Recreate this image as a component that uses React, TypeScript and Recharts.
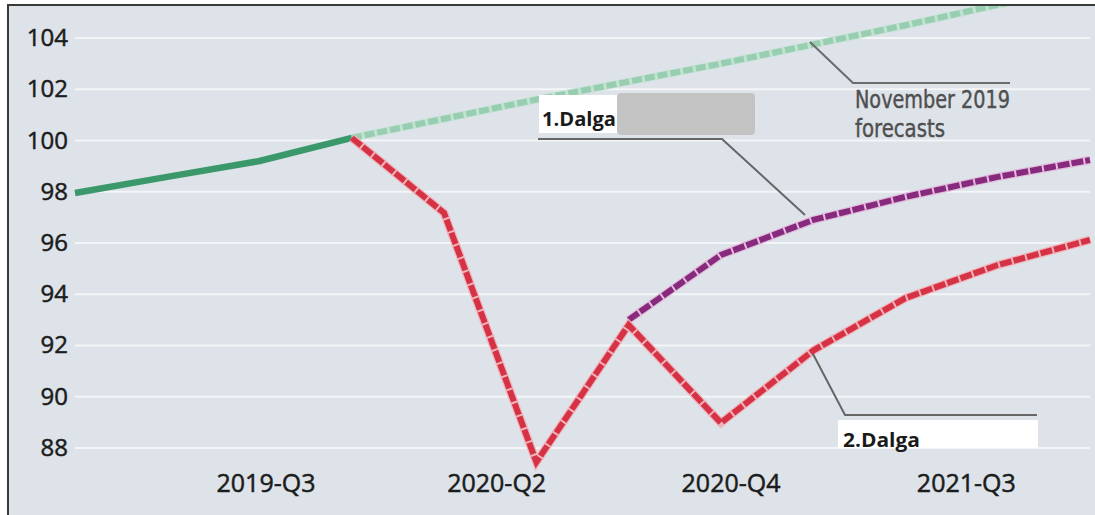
import React from "react";
import { LineChart, Line, XAxis, YAxis, ReferenceLine } from "recharts";

// quarter index along the x axis (0 .. 11)
const quarterIndex = [0, 1, 2, 3, 4, 5, 6, 7, 8, 9, 10, 11];
// actual GDP level (index)
const actualValues: (number | null)[] = [97.95, 98.58, 99.2, 100.1, null, null, null, null, null, null, null, null];
// November 2019 forecasts
const forecastValues: (number | null)[] = [null, null, null, 100.1, 100.85, 101.6, 102.3, 103.0, 103.75, 104.5, 105.3, 106.0];
// 1st wave scenario
const wave1Values: (number | null)[] = [null, null, null, null, null, null, 93.0, 95.53, 96.9, 97.8, 98.58, 99.24];
// 2nd wave scenario
const wave2Values: (number | null)[] = [null, null, null, 100.1, 97.17, 87.45, 92.8, 88.98, 91.8, 93.85, 95.14, 96.12];

const xTickLabels = ["2019-Q3", "2020-Q2", "2020-Q4", "2021-Q3"];
const xTickPositions = [2.07, 4.57, 7.11, 9.66];
const yTicks = [88, 90, 92, 94, 96, 98, 100, 102, 104];

const data = quarterIndex.map((q, i) => ({
  q,
  actual: actualValues[i],
  forecast: forecastValues[i],
  wave1: wave1Values[i],
  wave2: wave2Values[i],
}));

const tickFont = "'Open Sans', 'Noto Sans', sans-serif";

const XTick = (props: any) => {
  const { x, y, payload } = props;
  const idx = xTickPositions.indexOf(payload.value);
  return (
    <text x={x} y={y + 18} textAnchor="middle" fontFamily={tickFont} fontSize={25} fill="#1c1c1c" stroke="#1c1c1c" strokeWidth={0.5}>
      {idx >= 0 ? xTickLabels[idx] : ""}
    </text>
  );
};

const YTick = (props: any) => {
  const { x, y, payload } = props;
  return (
    <text x={x} y={y + 8} textAnchor="end" fontFamily={tickFont} fontSize={24} fill="#1c1c1c" stroke="#1c1c1c" strokeWidth={0.5}>
      {payload.value}
    </text>
  );
};

const condensed = "'Liberation Sans Narrow', 'DejaVu Sans Condensed', 'Roboto', sans-serif";

export default function App() {
  return (
    <div style={{ position: "absolute", left: 0, top: 0, width: 1095, height: 515, background: "#ffffff", overflow: "hidden" }}>
      <div
        style={{
          position: "absolute",
          left: 7,
          top: 4,
          width: 1088,
          height: 511,
          background: "#dde3e9",
          borderLeft: "2px solid #3a3a3a",
          borderTop: "2px solid #3a3a3a",
          boxSizing: "border-box",
        }}
      />
      <div style={{ position: "absolute", left: 0, top: 0 }}>
        <LineChart width={1095} height={515} data={data} margin={{ top: 6, right: 5, bottom: 11.4, left: 15 }}>
          <XAxis
            dataKey="q"
            type="number"
            domain={[0, 11]}
            ticks={xTickPositions}
            tick={<XTick />}
            tickLine={false}
            axisLine={false}
            stroke="none"
            tickSize={0}
            tickMargin={0}
            height={30}
            interval={0}
          />
          <YAxis
            type="number"
            domain={[87, 105.25]}
            allowDataOverflow
            ticks={yTicks}
            tick={<YTick />}
            tickLine={false}
            axisLine={false}
            stroke="none"
            tickSize={0}
            tickMargin={7}
            width={60}
            interval={0}
          />
          {yTicks.map((v) => (
            <ReferenceLine key={v} y={v} stroke="#f3f5f7" strokeWidth={2} />
          ))}
          <Line dataKey="forecast" type="linear" stroke="#c3e2d2" strokeWidth={7.5} dot={false} activeDot={false} isAnimationActive={false} />
          <Line dataKey="forecast" type="linear" stroke="#97cdb0" strokeWidth={6} strokeDasharray="10 3" dot={false} activeDot={false} isAnimationActive={false} />
          <Line dataKey="actual" type="linear" stroke="#3b986a" strokeWidth={6.5} dot={false} activeDot={false} isAnimationActive={false} />
          <Line dataKey="wave1" type="linear" stroke="#e2bcdc" strokeWidth={8.5} dot={false} activeDot={false} isAnimationActive={false} />
          <Line dataKey="wave1" type="linear" stroke="#872a7d" strokeWidth={6} strokeDasharray="12 2" dot={false} activeDot={false} isAnimationActive={false} />
          <Line dataKey="wave2" type="linear" stroke="#f0b3ba" strokeWidth={8.5} dot={false} activeDot={false} isAnimationActive={false} />
          <Line dataKey="wave2" type="linear" stroke="#d63246" strokeWidth={6} strokeDasharray="12 2" dot={false} activeDot={false} isAnimationActive={false} />
        </LineChart>
      </div>
      <svg width={1095} height={515} style={{ position: "absolute", left: 0, top: 0, pointerEvents: "none" }}>
        {/* November 2019 forecasts annotation */}
        <polyline points="810,42 853,83 1010,83" fill="none" stroke="#6b6b6b" strokeWidth={2} />
        <text x={855} y={108} fontFamily={condensed} fontSize={24} fill="#4f4f4f" stroke="#4f4f4f" strokeWidth={0.4} textLength={155} lengthAdjust="spacingAndGlyphs">
          November 2019
        </text>
        <text x={855} y={137} fontFamily={condensed} fontSize={24} fill="#4f4f4f" stroke="#4f4f4f" strokeWidth={0.4} textLength={90} lengthAdjust="spacingAndGlyphs">
          forecasts
        </text>
        {/* 1.Dalga annotation */}
        <rect x={539} y={95} width={79} height={38} fill="#ffffff" />
        <rect x={617} y={93} width={138} height={42} rx={4} fill="#c3c3c3" />
        <text x={542} y={126} fontFamily="'Open Sans', sans-serif" fontWeight="bold" fontSize={19} fill="#1a1a1a" textLength={74} lengthAdjust="spacingAndGlyphs">
          1.Dalga
        </text>
        <polyline points="538,139 722,139 805,215" fill="none" stroke="#666666" strokeWidth={2} />
        {/* 2.Dalga annotation */}
        <polyline points="813,354 845,415 1037,415" fill="none" stroke="#666666" strokeWidth={2} />
        <rect x={838} y={420} width={200} height={28} fill="#ffffff" />
        <text x={843} y={447} fontFamily="'Open Sans', sans-serif" fontWeight="bold" fontSize={19} fill="#1a1a1a" textLength={77} lengthAdjust="spacingAndGlyphs">
          2.Dalga
        </text>
      </svg>
    </div>
  );
}
